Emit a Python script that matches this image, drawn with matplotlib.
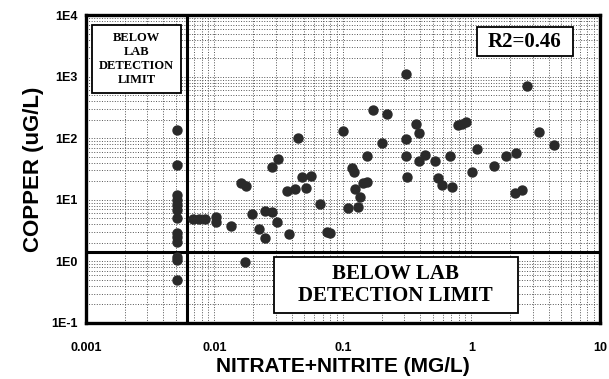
#Scatter of copper against nitrate+nitrite on log-log axes.
import matplotlib.pyplot as plt
from matplotlib.patches import Rectangle

# Samples below the nitrate detection limit (plotted at one x value).
below_x = [0.0051] * 13
below_cu = [136, 36.7, 12, 10, 8.2, 6.8, 5.1, 2.9, 2.5, 2.1, 1.17, 1.05, 0.5]

# Samples above the nitrate detection limit.
nitrate = [0.0068, 0.0076, 0.0084, 0.0103, 0.0103, 0.0134, 0.0195, 0.0247,
           0.0279, 0.0308, 0.0223, 0.0247, 0.0382, 0.0173, 0.016, 0.0175,
           0.0365, 0.0423, 0.0515, 0.0662, 0.0449, 0.0314, 0.0279, 0.0485,
           0.057, 0.309, 0.172, 0.219, 0.370, 0.393, 0.1005, 0.309, 0.2,
           0.153, 0.309, 0.434, 0.393, 0.52, 0.687, 0.785, 0.117, 0.122,
           0.318, 0.552, 0.143, 0.154, 0.124, 0.135, 0.589, 0.705, 2.72,
           0.84, 0.906, 3.37, 4.39, 1.1, 1.87, 2.22, 1.49, 1.01, 2.18, 2.46,
           0.11, 0.131, 0.0746, 0.0792]
copper = [4.9, 4.9, 4.9, 5.3, 4.4, 3.8, 5.8, 6.6,
          6.3, 4.4, 3.4, 2.4, 2.75, 0.99, 19, 17,
          13.9, 14.8, 15.4, 8.5, 99.6, 46, 33.7, 23.2,
          24.3, 1100, 287, 247, 168, 120, 131, 97, 83,
          51, 51, 53, 43, 42, 52, 164, 32.5, 27.8,
          23.7, 22.3, 19.1, 19.7, 14.8, 11, 17.4, 16, 704,
          168, 185, 125, 78, 68, 52, 57.5, 35, 27.8, 13, 14.7,
          7.3, 7.7, 3.03, 2.9]

# Detection limits.
nitrate_limit = 0.0061
copper_limit = 1.44

x_ticks = [0.001, 0.01, 0.1, 1, 10]
x_labels = ['0.001', '0.01', '0.1', '1', '10']
y_ticks = [0.1, 1, 10, 100, 1000, 10000]
y_labels = ['1E-1', '1E0', '1E1', '1E2', '1E3', '1E4']


def label_box(ax, x0, y0, x1, y1, text, size, spacing):
    """Draw a white framed box in axes fraction with centred serif text."""
    ax.add_patch(Rectangle((x0, y0), x1 - x0, y1 - y0, transform=ax.transAxes,
                           facecolor='white', edgecolor='black',
                           linewidth=1.3, zorder=4))
    ax.text((x0 + x1) / 2, (y0 + y1) / 2, text, transform=ax.transAxes,
            ha='center', va='center', fontfamily='Liberation Serif',
            fontweight='bold', fontsize=size, linespacing=spacing, zorder=5)


def main():
    fig = plt.figure(figsize=(6.09, 3.79), dpi=100)
    ax = fig.add_axes([0.141, 0.148, 0.844, 0.812])

    ax.set_xscale('log')
    ax.set_yscale('log')
    ax.set_xlim(0.001, 10)
    ax.set_ylim(0.1, 10000)

    # Dotted grid at major and minor positions.
    ax.grid(True, which='both', linestyle=':', linewidth=0.7, color='#555555')
    ax.set_axisbelow(True)

    ax.scatter(below_x, below_cu, s=42, color='#2a2a2a', zorder=3)
    ax.scatter(nitrate, copper, s=42, color='#2a2a2a', zorder=3)

    # Detection limit lines.
    ax.axvline(nitrate_limit, color='black', linewidth=2.2, zorder=2)
    ax.axhline(copper_limit, color='black', linewidth=2.2, zorder=2)

    for s in ax.spines.values():
        s.set_linewidth(2.4)

    ax.set_xticks(x_ticks, x_labels)
    ax.set_yticks(y_ticks, y_labels)
    ax.tick_params(which='both', length=0)
    ax.tick_params(axis='x', pad=14)
    ax.tick_params(axis='y', pad=6)
    for t in ax.get_xticklabels() + ax.get_yticklabels():
        t.set_fontfamily('Liberation Sans')
        t.set_fontweight('bold')
        t.set_fontsize(9)

    ax.set_xlabel('NITRATE+NITRITE (MG/L)', fontfamily='Liberation Sans',
                  fontweight='bold', fontsize=15, labelpad=2)
    ax.set_ylabel('COPPER (uG/L)', fontfamily='Liberation Sans',
                  fontweight='bold', fontsize=16, labelpad=5)

    # Label boxes.
    label_box(ax, 0.012, 0.747, 0.185, 0.968,
              'BELOW\nLAB\nDETECTION\nLIMIT', 9, 1.2)
    label_box(ax, 0.761, 0.867, 0.947, 0.961, 'R2=0.46', 15, 1.0)
    label_box(ax, 0.366, 0.032, 0.840, 0.214,
              'BELOW LAB\nDETECTION LIMIT', 15, 1.1)

    fig.savefig('out.png', dpi=100)


if __name__ == '__main__':
    main()
